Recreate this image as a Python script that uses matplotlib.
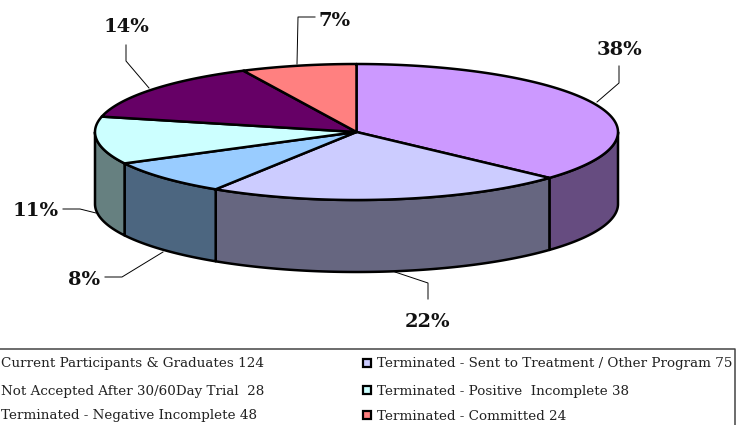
import numpy as np
import matplotlib
matplotlib.use("Agg")
import matplotlib.pyplot as plt
from matplotlib.patches import Polygon, Rectangle

counts = [124, 75, 28, 38, 48, 24]
pct_labels = ["38%", "22%", "8%", "11%", "14%", "7%"]
legend_left = [
    "Current Participants & Graduates 124",
    "Not Accepted After 30/60Day Trial  28",
    "Terminated - Negative Incomplete 48",
]
legend_right = [
    "Terminated - Sent to Treatment / Other Program 75",
    "Terminated - Positive  Incomplete 38",
    "Terminated - Committed 24",
]
top_colors = ["#CC99FF", "#CCCCFF", "#99CCFF", "#CCFFFF", "#660066", "#FF8080"]
side_colors = ["#664C80", "#666680", "#4C6680", "#668080", "#330033", "#804040"]
right_marker_colors = ["#CCCCFF", "#CCFFFF", "#FF8080"]

CX, CY = 356.5, 132
RX, RY = 261.5, 68
DEPTH = 72


def rim(a):
    # a is degrees clockwise from 12 o'clock
    r = np.radians(a)
    return CX + RX * np.sin(r), CY - RY * np.cos(r)


fig = plt.figure(figsize=(7.49, 4.25), dpi=100)
ax = fig.add_axes([0, 0, 1, 1])
ax.set_xlim(0, 749)
ax.set_ylim(425, 0)
ax.axis("off")

edges = np.concatenate([[0], np.cumsum(counts)]) / sum(counts) * 360

# side walls, only the front half of the pie shows
for i in range(len(counts)):
    a0, a1 = max(edges[i], 90), min(edges[i + 1], 270)
    if a0 >= a1:
        continue
    t = np.linspace(a0, a1, 120)
    x, y = rim(t)
    pts = np.column_stack([np.r_[x, x[::-1]], np.r_[y, y[::-1] + DEPTH]])
    ax.add_patch(Polygon(pts, fc=side_colors[i], ec="black", lw=1.8, joinstyle="round"))

# top face
for i in range(len(counts)):
    t = np.linspace(edges[i], edges[i + 1], 120)
    x, y = rim(t)
    pts = np.column_stack([np.r_[CX, x], np.r_[CY, y]])
    ax.add_patch(Polygon(pts, fc=top_colors[i], ec="black", lw=1.8, joinstyle="round"))

# leader lines
leaders = [
    ([619, 619, 597], [66, 83, 102]),
    ([428, 428, 395], [299, 283, 272]),
    ([105, 122, 163], [277, 277, 252]),
    ([63, 80, 96], [209, 209, 213]),
    ([126, 126, 149], [45, 61, 88]),
    ([315, 298, 297], [17, 17, 64]),
]
for lx, ly in leaders:
    ax.plot(lx, ly, color="black", lw=0.7)

label_pos = [(619, 50), (428, 322), (84, 280), (36, 211), (126, 27), (335, 21)]
for lab, (px, py) in zip(pct_labels, label_pos):
    ax.text(px, py, lab, family="DejaVu Serif", weight="bold", fontsize=14,
            ha="center", va="center", color="#111111")

# legend box, runs off the left and bottom of the picture
ax.plot([-2, 735, 735], [349, 349, 427], color="#444444", lw=1.1)

rows_y = [364, 391, 416]
for txt, ry in zip(legend_left, rows_y):
    ax.text(1, ry, txt, family="DejaVu Serif", fontsize=9.7, ha="left",
            va="center", color="#222222")
for txt, col, ry in zip(legend_right, right_marker_colors, rows_y):
    ax.add_patch(Rectangle((363, ry - 5), 8, 8, fc=col, ec="black", lw=1.6))
    ax.text(377, ry, txt, family="DejaVu Serif", fontsize=9.7, ha="left",
            va="center", color="#222222")

fig.savefig("out.png", dpi=100)
